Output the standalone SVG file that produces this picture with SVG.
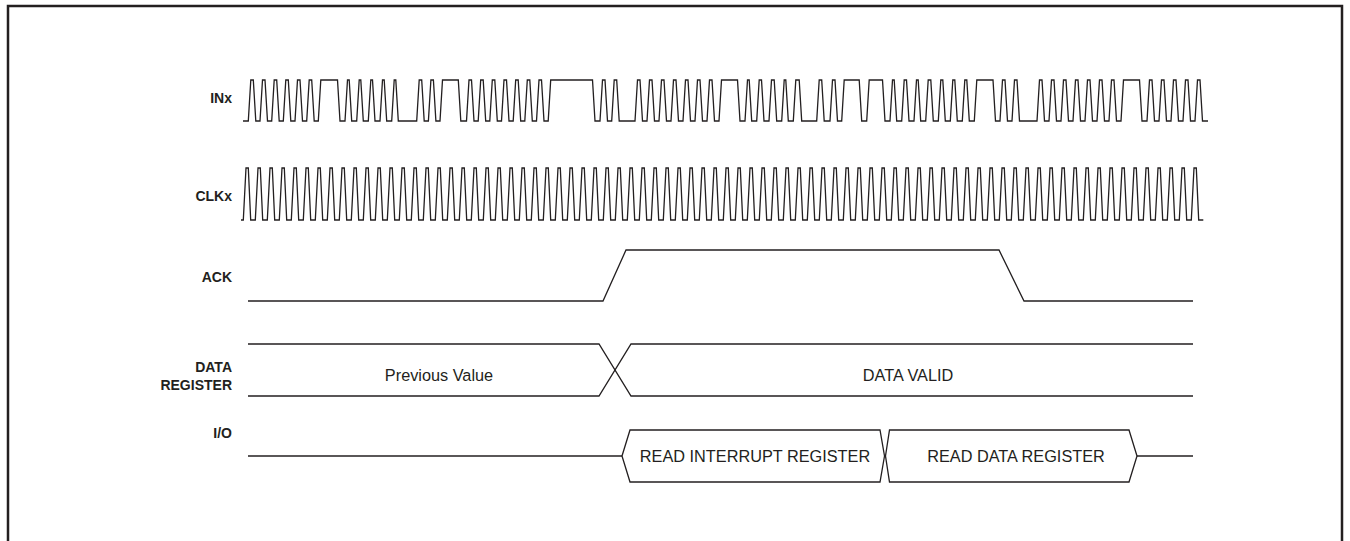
<svg xmlns="http://www.w3.org/2000/svg" width="1350" height="541" viewBox="0 0 1350 541">
<style>
.w{fill:none;stroke:#231f20;stroke-width:1.3;stroke-linejoin:miter}
.lbl{font-family:"Liberation Sans",Arial,sans-serif;font-weight:bold;font-size:14px;fill:#231f20;text-anchor:end}
.t{font-family:"Liberation Sans",Arial,sans-serif;font-size:16.3px;fill:#231f20;text-anchor:middle}
</style>
<rect x="0" y="0" width="1350" height="541" fill="#ffffff"/>
<path d="M8,560 V6 H1342 V560" fill="none" stroke="#231f20" stroke-width="2.5"/>
<g id="sig-inx">
<text class="lbl" x="232" y="103">INx</text>
<path class="w" d="M243,121 H248.3l2.5-41 H253.3l2.5 41 H260l2.5-41 H265l2.5 41 H271.7l2.5-41 H276.7l2.5 41 H283.3l2.5-41 H288.3l2.5 41 H295l2.5-41 H300l2.5 41 H306.7l2.5-41 H311.7l2.5 41 H318.3l2.5-41 H337.5l2.5 41 H345l2.5-41 H349.2l2.5 41 H356.7l2.5-41 H360.8l2.5 41 H368.3l2.5-41 H372.5l2.5 41 H380l2.5-41 H384.2l2.5 41 H391.7l2.5-41 H395.8l2.5 41 H416.7l2.5-41 H421.7l2.5 41 H428.4l2.5-41 H433.4l2.5 41 H440l2.5-41 H458.3l2.5 41 H466.5l2.5-41 H471.5l2.5 41 H478.2l2.5-41 H483.2l2.5 41 H489.8l2.5-41 H494.8l2.5 41 H501.5l2.5-41 H506.5l2.5 41 H513.2l2.5-41 H518.2l2.5 41 H524.8l2.5-41 H529.8l2.5 41 H536.5l2.5-41 H541.5l2.5 41 H548.2l2.5-41 H592.5l2.5 41 H600l2.5-41 H605l2.5 41 H611.7l2.5-41 H616.7l2.5 41 H635l2.5-41 H640l2.5 41 H647l2.5-41 H652l2.5 41 H659l2.5-41 H664l2.5 41 H671l2.5-41 H676l2.5 41 H683l2.5-41 H688l2.5 41 H695l2.5-41 H700l2.5 41 H707l2.5-41 H712l2.5 41 H719l2.5-41 H737.5l2.5 41 H745l2.5-41 H749.2l2.5 41 H756.7l2.5-41 H761.5l2.5 41 H769l2.5-41 H774.2l2.5 41 H781.7l2.5-41 H785.8l2.5 41 H793.3l2.5-41 H799.2l2.5 41 H816.7l2.5-41 H821.7l2.5 41 H830l2.5-41 H835l2.5 41 H841.7l2.5-41 H859.2l2.5 41 H866.7l2.5-41 H882.5l2.5 41 H890l2.5-41 H894.2l2.5 41 H901.7l2.5-41 H906.5l2.5 41 H914l2.5-41 H918.2l2.5 41 H925.7l2.5-41 H930.8l2.5 41 H938.3l2.5-41 H942.8l2.5 41 H950.3l2.5-41 H954.8l2.5 41 H962.3l2.5-41 H966.8l2.5 41 H974.3l2.5-41 H993l2.5 41 H1000l2.5-41 H1005l2.5 41 H1012l2.5-41 H1017l2.5 41 H1037l2.5-41 H1042l2.5 41 H1049l2.5-41 H1054l2.5 41 H1061l2.5-41 H1066l2.5 41 H1073l2.5-41 H1078l2.5 41 H1085l2.5-41 H1090l2.5 41 H1097l2.5-41 H1102l2.5 41 H1109l2.5-41 H1114l2.5 41 H1121l2.5-41 H1139.5l2.5 41 H1147l2.5-41 H1152l2.5 41 H1159l2.5-41 H1164l2.5 41 H1171l2.5-41 H1176l2.5 41 H1183l2.5-41 H1188l2.5 41 H1195l2.5-41 H1200l2.5 41 H1208"/>
</g>
<g id="sig-clkx">
<text class="lbl" x="232" y="201">CLKx</text>
<path class="w" d="M241,220 H243.3
l2.7-52h2.3l2.4,52h4.6 l2.7-52h2.3l2.4,52h4.6 l2.7-52h2.3l2.4,52h4.6 l2.7-52h2.3l2.4,52h4.6 l2.7-52h2.3l2.4,52h4.6 l2.7-52h2.3l2.4,52h4.6 l2.7-52h2.3l2.4,52h4.6 l2.7-52h2.3l2.4,52h4.6 l2.7-52h2.3l2.4,52h4.6 l2.7-52h2.3l2.4,52h4.6
l2.7-52h2.3l2.4,52h4.6 l2.7-52h2.3l2.4,52h4.6 l2.7-52h2.3l2.4,52h4.6 l2.7-52h2.3l2.4,52h4.6 l2.7-52h2.3l2.4,52h4.6 l2.7-52h2.3l2.4,52h4.6 l2.7-52h2.3l2.4,52h4.6 l2.7-52h2.3l2.4,52h4.6 l2.7-52h2.3l2.4,52h4.6 l2.7-52h2.3l2.4,52h4.6
l2.7-52h2.3l2.4,52h4.6 l2.7-52h2.3l2.4,52h4.6 l2.7-52h2.3l2.4,52h4.6 l2.7-52h2.3l2.4,52h4.6 l2.7-52h2.3l2.4,52h4.6 l2.7-52h2.3l2.4,52h4.6 l2.7-52h2.3l2.4,52h4.6 l2.7-52h2.3l2.4,52h4.6 l2.7-52h2.3l2.4,52h4.6 l2.7-52h2.3l2.4,52h4.6
l2.7-52h2.3l2.4,52h4.6 l2.7-52h2.3l2.4,52h4.6 l2.7-52h2.3l2.4,52h4.6 l2.7-52h2.3l2.4,52h4.6 l2.7-52h2.3l2.4,52h4.6 l2.7-52h2.3l2.4,52h4.6 l2.7-52h2.3l2.4,52h4.6 l2.7-52h2.3l2.4,52h4.6 l2.7-52h2.3l2.4,52h4.6 l2.7-52h2.3l2.4,52h4.6
l2.7-52h2.3l2.4,52h4.6 l2.7-52h2.3l2.4,52h4.6 l2.7-52h2.3l2.4,52h4.6 l2.7-52h2.3l2.4,52h4.6 l2.7-52h2.3l2.4,52h4.6 l2.7-52h2.3l2.4,52h4.6 l2.7-52h2.3l2.4,52h4.6 l2.7-52h2.3l2.4,52h4.6 l2.7-52h2.3l2.4,52h4.6 l2.7-52h2.3l2.4,52h4.6
l2.7-52h2.3l2.4,52h4.6 l2.7-52h2.3l2.4,52h4.6 l2.7-52h2.3l2.4,52h4.6 l2.7-52h2.3l2.4,52h4.6 l2.7-52h2.3l2.4,52h4.6 l2.7-52h2.3l2.4,52h4.6 l2.7-52h2.3l2.4,52h4.6 l2.7-52h2.3l2.4,52h4.6 l2.7-52h2.3l2.4,52h4.6 l2.7-52h2.3l2.4,52h4.6
l2.7-52h2.3l2.4,52h4.6 l2.7-52h2.3l2.4,52h4.6 l2.7-52h2.3l2.4,52h4.6 l2.7-52h2.3l2.4,52h4.6 l2.7-52h2.3l2.4,52h4.6 l2.7-52h2.3l2.4,52h4.6 l2.7-52h2.3l2.4,52h4.6 l2.7-52h2.3l2.4,52h4.6 l2.7-52h2.3l2.4,52h4.6 l2.7-52h2.3l2.4,52h4.6
l2.7-52h2.3l2.4,52h4.6 l2.7-52h2.3l2.4,52h4.6 l2.7-52h2.3l2.4,52h4.6 l2.7-52h2.3l2.4,52h4.6 l2.7-52h2.3l2.4,52h4.6 l2.7-52h2.3l2.4,52h4.6 l2.7-52h2.3l2.4,52h4.6 l2.7-52h2.3l2.4,52h4.6 l2.7-52h2.3l2.4,52h4.6 l2.7-52h2.3l2.4,52h4.6"/>
</g>
<g id="sig-ack">
<text class="lbl" x="232" y="282">ACK</text>
<path class="w" d="M248,301 H603 L626,250 H999 L1024,301 H1193"/>
</g>
<g id="sig-data-register">
<text class="lbl" x="232" y="372">DATA</text>
<text class="lbl" x="232" y="390">REGISTER</text>
<path class="w" d="M248,344 H599 L631,396 H1193"/>
<path class="w" d="M248,396 H599 L631,344 H1193"/>
<text class="t" x="439" y="381">Previous Value</text>
<text class="t" x="908" y="381">DATA VALID</text>
</g>
<g id="sig-io">
<text class="lbl" x="232" y="438">I/O</text>
<path class="w" d="M248,456 H622"/>
<path class="w" d="M1137,456 H1193"/>
<g id="io-read-interrupt">
<path class="w" d="M622,456 L630,430 H880 L884.5,456 L880,482 H630 Z"/>
<text class="t" x="755" y="462">READ INTERRUPT REGISTER</text>
</g>
<g id="io-read-data">
<path class="w" d="M885.5,456 L889.5,430 H1129 L1137,456 L1129,482 H889.5 Z"/>
<text class="t" x="1016" y="462">READ DATA REGISTER</text>
</g>
</g>
<g id="connectors"/>
</svg>
